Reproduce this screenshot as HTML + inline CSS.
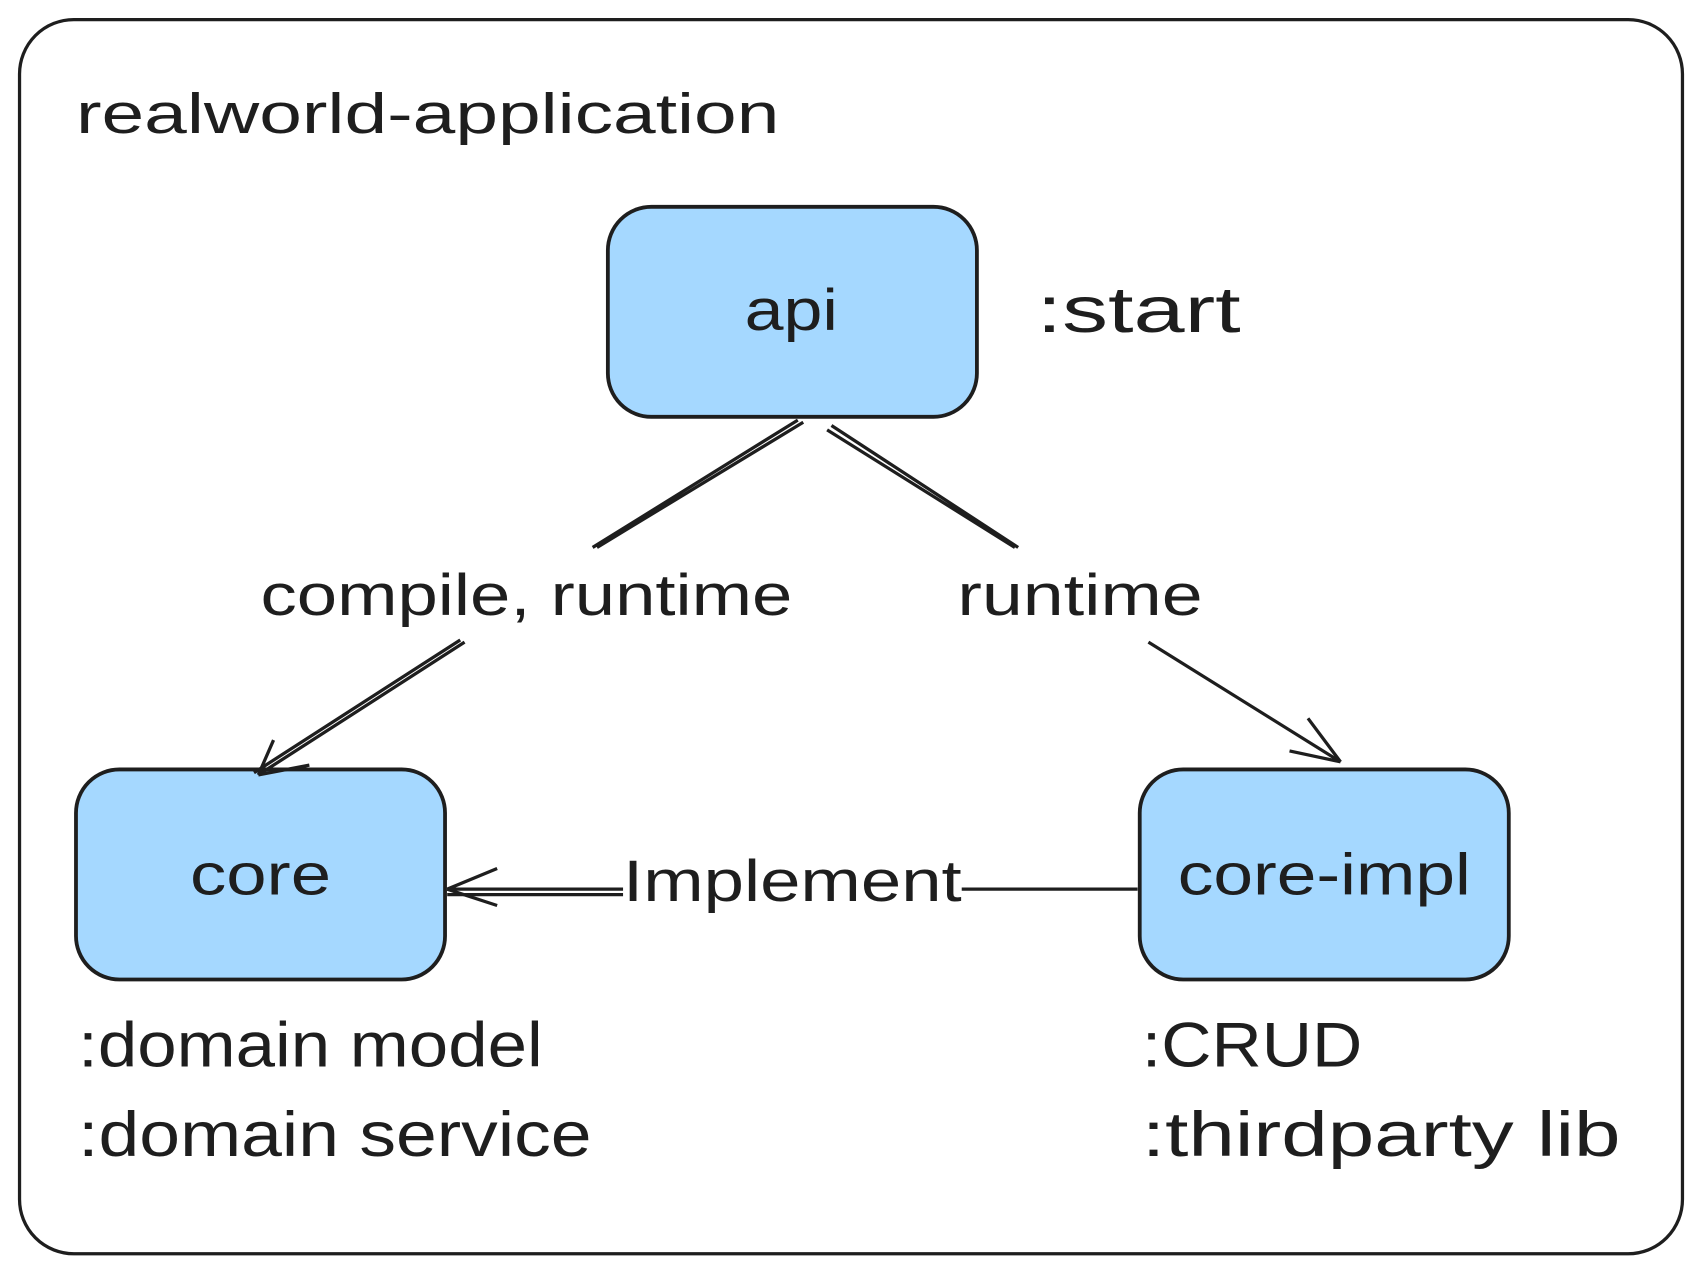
<!DOCTYPE html>
<html><head><style>html,body{margin:0;padding:0;background:#fff}svg{display:block}</style></head>
<body>
<svg width="1702" height="1269" viewBox="0 0 1568 1166" preserveAspectRatio="none" xmlns="http://www.w3.org/2000/svg" font-family="Liberation Sans, sans-serif" fill="#1e1e1e">
<rect x="18" y="18" width="1532" height="1134" rx="50" fill="#fff" stroke="#1e1e1e" stroke-width="3"/>
<text x="70" y="122" font-size="52" textLength="648" lengthAdjust="spacingAndGlyphs">realworld-application</text>
<g stroke="#1e1e1e" stroke-width="3.5">
<rect x="560" y="190" width="340" height="193" rx="40" fill="#a5d8ff"/>
<rect x="70" y="707" width="340" height="193" rx="40" fill="#a5d8ff"/>
<rect x="1050" y="707" width="340" height="193" rx="40" fill="#a5d8ff"/>
</g>
<text x="686" y="303" font-size="54" textLength="86" lengthAdjust="spacingAndGlyphs">api</text>
<text x="175" y="822" font-size="54" textLength="130" lengthAdjust="spacingAndGlyphs">core</text>
<text x="1085" y="822" font-size="54" textLength="270" lengthAdjust="spacingAndGlyphs">core-impl</text>
<text x="955" y="305" font-size="60" textLength="188" lengthAdjust="spacingAndGlyphs">:start</text>
<g stroke="#1e1e1e" stroke-width="3" fill="none">
<path d="M740 388 L550 503 M735 386 L546 503"/>
<path d="M428 590 L238 712 M424 588 L234 710"/>
<path d="M238 712 L252 680 M238 712 L285 703"/>
<path d="M762 395 L935 503 M766 391 L938 503"/>
<path d="M1058 590 L1235 700"/>
<path d="M1235 700 L1205 660 M1235 700 L1188 690"/>
<path d="M1048 817 L886 817 M574 817 L412 817 M574 822 L412 822"/>
<path d="M412 817 L458 798 M412 817 L458 832"/>
</g>
<text x="240" y="565" font-size="54" textLength="490" lengthAdjust="spacingAndGlyphs">compile, runtime</text>
<text x="882" y="565" font-size="54" textLength="226" lengthAdjust="spacingAndGlyphs">runtime</text>
<text x="574" y="828" font-size="54" textLength="312" lengthAdjust="spacingAndGlyphs">Implement</text>
<text x="72" y="980" font-size="58" textLength="428" lengthAdjust="spacingAndGlyphs">:domain model</text>
<text x="72" y="1062" font-size="58" textLength="473" lengthAdjust="spacingAndGlyphs">:domain service</text>
<text x="1052" y="980" font-size="58" textLength="203" lengthAdjust="spacingAndGlyphs">:CRUD</text>
<text x="1052" y="1062" font-size="58" textLength="441" lengthAdjust="spacingAndGlyphs">:thirdparty lib</text>
</svg>
</body></html>
